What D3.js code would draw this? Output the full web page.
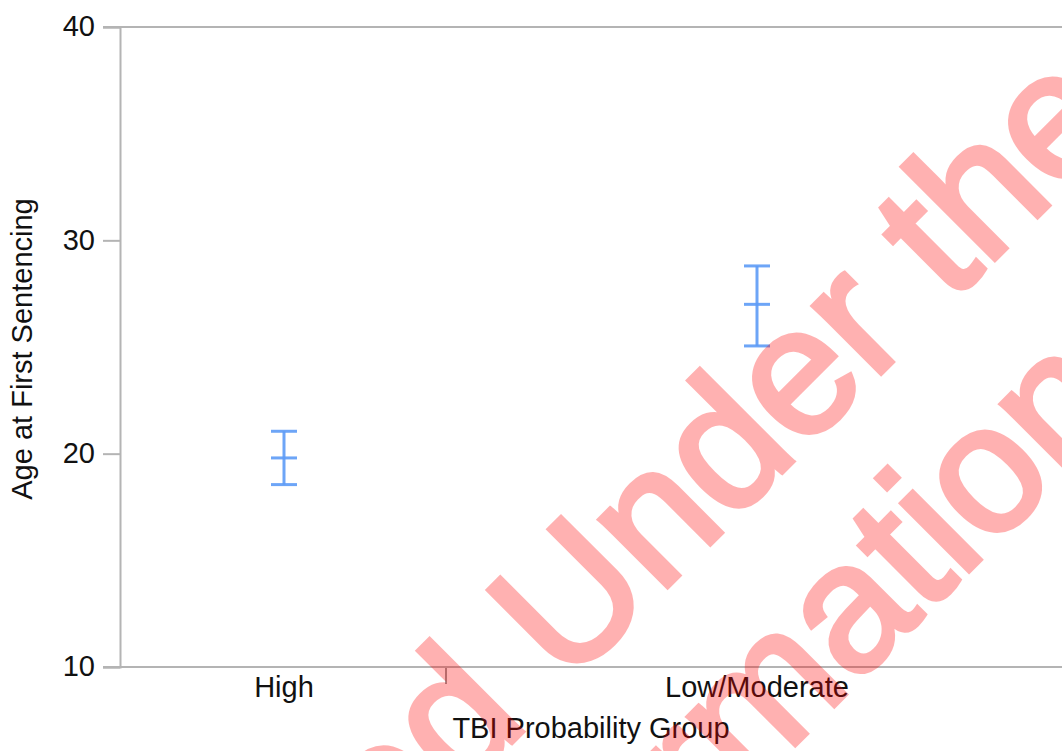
<!DOCTYPE html>
<html>
<head>
<meta charset="utf-8">
<script src="https://cdn.jsdelivr.net/npm/d3@7"></script>
<style>
  body { margin: 0; background: #fff; }
  svg { display: block; }
  text { font-family: "Liberation Sans", Arial, Helvetica, sans-serif; }
</style>
</head>
<body>
<svg id="chart" width="1062" height="751"></svg>
<script>
// data
var groups = ['High', 'Low/Moderate'];
var means = [19.8, 27.0];
var upper = [21.05, 28.8];
var lower = [18.55, 25.05];
var yTicks = [10, 20, 30, 40];

var svg = d3.select('#chart');
var W = 1062, H = 751;

var y = d3.scaleLinear().domain([10, 40]).range([667, 27]);
var x = d3.scalePoint().domain(groups).range([284, 757]);
var axisX = 120;
var grey = '#b4b4b4';

//frame lines (top and bottom run across)
svg.selectAll('.hline')
  .data([10, 40]).enter()
  .append('line')
  .attr('x1', 103).attr('x2', W + 10)
  .attr('y1', function (d) { return y(d); })
  .attr('y2', function (d) { return y(d); })
  .attr('stroke', grey).attr('stroke-width', 2);

//y axis
var yAxis = d3.axisLeft(y).tickValues(yTicks).tickSize(17).tickPadding(8);
var gy = svg.append('g').attr('transform', 'translate(' + axisX + ',0)').call(yAxis);
gy.select('.domain').attr('stroke', grey).attr('stroke-width', 2);
gy.selectAll('.tick line').attr('stroke', grey).attr('stroke-width', 2);
gy.selectAll('.tick text')
  .attr('font-size', 29)
  .attr('fill', '#111')
  .attr('dy', '0.3em')
  .style('font-family', '"Liberation Sans", Arial, sans-serif');

//x labels
svg.selectAll('.xlab')
  .data(groups).enter()
  .append('text')
  .attr('class', 'xlab')
  .attr('x', function (d) { return x(d); })
  .attr('y', 697)
  .attr('text-anchor', 'middle')
  .attr('font-size', 29)
  .attr('fill', '#111')
  .text(function (d) { return d; });

//small separator tick
svg.append('line')
  .attr('x1', 446).attr('x2', 446)
  .attr('y1', 668).attr('y2', 684)
  .attr('stroke', '#999').attr('stroke-width', 2);

//axis titles
svg.append('text')
  .attr('x', 591).attr('y', 738)
  .attr('text-anchor', 'middle')
  .attr('font-size', 29)
  .attr('fill', '#111')
  .text('TBI Probability Group');

svg.append('text')
  .attr('transform', 'translate(32,' + 349 + ') rotate(-90)')
  .attr('text-anchor', 'middle')
  .attr('font-size', 29)
  .attr('fill', '#111')
  .text('Age at First Sentencing');

//error bars
var blue = '#5d9bf6';
var bars = svg.selectAll('.bar')
  .data(groups).enter()
  .append('g')
  .attr('class', 'bar')
  .attr('stroke', blue)
  .attr('stroke-width', 3)
  .attr('stroke-opacity', 0.9);

bars.append('line')
  .attr('x1', function (d) { return x(d); })
  .attr('x2', function (d) { return x(d); })
  .attr('y1', function (d, i) { return y(upper[i]); })
  .attr('y2', function (d, i) { return y(lower[i]); });

[upper, means, lower].forEach(function (arr) {
  bars.append('line')
    .attr('x1', function (d) { return x(d) - 13; })
    .attr('x2', function (d) { return x(d) + 13; })
    .attr('y1', function (d, i) { return y(arr[i]); })
    .attr('y2', function (d, i) { return y(arr[i]); });
});

//watermark, rotated 45 degrees; thin stroke thickens the glyphs a little
var wm = svg.append('g')
  .attr('transform', 'rotate(-45)')
  .attr('opacity', 0.3)
  .attr('fill', 'red')
  .attr('stroke', 'red')
  .attr('stroke-width', 5)
  .attr('font-size', 181);

var line1 = wm.append('text').attr('y', 887).text('Published Under the License');
var s1 = line1.node().getSubStringLength(0, 'Published '.length);
line1.attr('x', -86 - s1);

var line2 = wm.append('text').attr('y', 1089).text('further information');
var t2 = 'further information';
var oi = t2.lastIndexOf('o');
var n2 = line2.node();
var oc = n2.getSubStringLength(0, oi) + n2.getSubStringLength(oi, 1) / 2;
line2.attr('x', 360 - oc);
</script>
</body>
</html>
